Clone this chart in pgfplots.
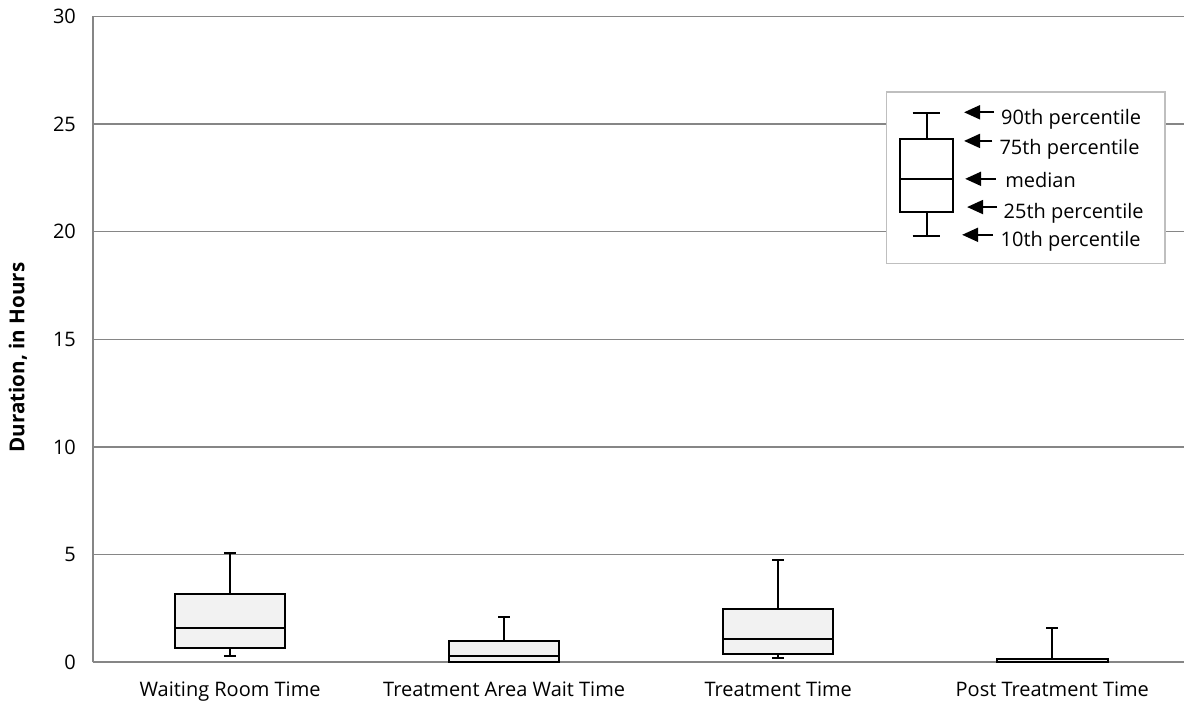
\documentclass[border=0pt]{standalone}
\usepackage{fontspec}
\setmainfont{Open Sans}
\usepackage{pgfplots}
\pgfplotsset{compat=1.18}
\usepgfplotslibrary{statistics}
\usetikzlibrary{arrows.meta}
\definecolor{gridgray}{HTML}{868686}
\definecolor{boxfill}{HTML}{F2F2F2}
\definecolor{legframe}{HTML}{BFBFBF}
\begin{document}
\begin{tikzpicture}
\begin{axis}[
  scale only axis, width=546pt, height=323.25pt,
  xmin=-0.5005, xmax=3.4805, ymin=0, ymax=30,
  boxplot/draw direction=y,
  axis x line*=bottom, axis y line*=left,
  x axis line style={gridgray, line width=1pt},
  y axis line style={gridgray, line width=0.85pt},
  ytick={0,5,...,30},
  xtick={0,1,2,3},
  xticklabels={Waiting Room Time, Treatment Area Wait Time, Treatment Time, Post Treatment Time},
  major tick length=0pt,
  ymajorgrids, grid style={gridgray, line width=0.65pt},
  tick label style={font=\fontsize{10}{12}\selectfont},
  yticklabel style={anchor=east, xshift=-5pt},
  xticklabel style={yshift=-6pt},
  /pgf/number format/assume math mode=true,
  ylabel={Duration, in Hours},
  ylabel style={font=\bfseries\fontsize{10.3}{12}\selectfont, at={(axis description cs:-0.0687,0.472)}, anchor=center},
  clip=false,
]
\addplot[boxplot prepared={lower whisker=0.29, lower quartile=0.68, median=1.59, upper quartile=3.2, upper whisker=5.09, draw position=0, box extend=0.403, whisker extend=0.045}, draw=black, fill=boxfill, line width=1pt] coordinates {};
\addplot[boxplot prepared={lower whisker=0, lower quartile=0, median=0.28, upper quartile=0.99, upper whisker=2.1, draw position=1, box extend=0.403, whisker extend=0.045}, draw=black, fill=boxfill, line width=1pt] coordinates {};
\addplot[boxplot prepared={lower whisker=0.22, lower quartile=0.39, median=1.1, upper quartile=2.49, upper whisker=4.78, draw position=2, box extend=0.403, whisker extend=0.045}, draw=black, fill=boxfill, line width=1pt] coordinates {};
\addplot[boxplot prepared={lower whisker=0, lower quartile=0, median=0, upper quartile=0.15, upper whisker=1.58, draw position=3, box extend=0.403, whisker extend=0.045}, draw=black, fill=boxfill, line width=1pt] coordinates {};
% legend frame
\filldraw[fill=white, draw=legframe, line width=0.75pt] (axis cs:2.395,18.52) rectangle (axis cs:3.411,26.5);
\addplot[boxplot prepared={lower whisker=19.81, lower quartile=20.91, median=22.47, upper quartile=24.30, upper whisker=25.54, draw position=2.541, box extend=0.193, whisker extend=0.101}, draw=black, fill=white, line width=1pt] coordinates {};
\tikzset{legarrow/.style={-{Triangle[length=8pt,width=7pt]}, line width=1pt}}
\draw[legarrow] (axis cs:2.788,25.55) -- (axis cs:2.678,25.55);
\draw[legarrow] (axis cs:2.781,24.22) -- (axis cs:2.678,24.22);
\draw[legarrow] (axis cs:2.794,22.46) -- (axis cs:2.682,22.46);
\draw[legarrow] (axis cs:2.799,21.15) -- (axis cs:2.689,21.15);
\draw[legarrow] (axis cs:2.784,19.86) -- (axis cs:2.671,19.86);
\tikzset{legtext/.style={anchor=base west, inner sep=0pt, font=\fontsize{10}{12}\selectfont}}
\node[legtext] at (axis cs:2.812,24.97) {90th percentile};
\node[legtext] at (axis cs:2.806,23.57) {75th percentile};
\node[legtext] at (axis cs:2.827,22.07) {median};
\node[legtext] at (axis cs:2.821,20.64) {25th percentile};
\node[legtext] at (axis cs:2.810,19.32) {10th percentile};
\end{axis}
\path (current axis.south west) ++(-46.5pt,-24pt) coordinate (bbA);
\path (current axis.north east) ++(0pt,8.25pt) coordinate (bbB);
\path (bbA) rectangle (bbB);
\end{tikzpicture}
\end{document}
